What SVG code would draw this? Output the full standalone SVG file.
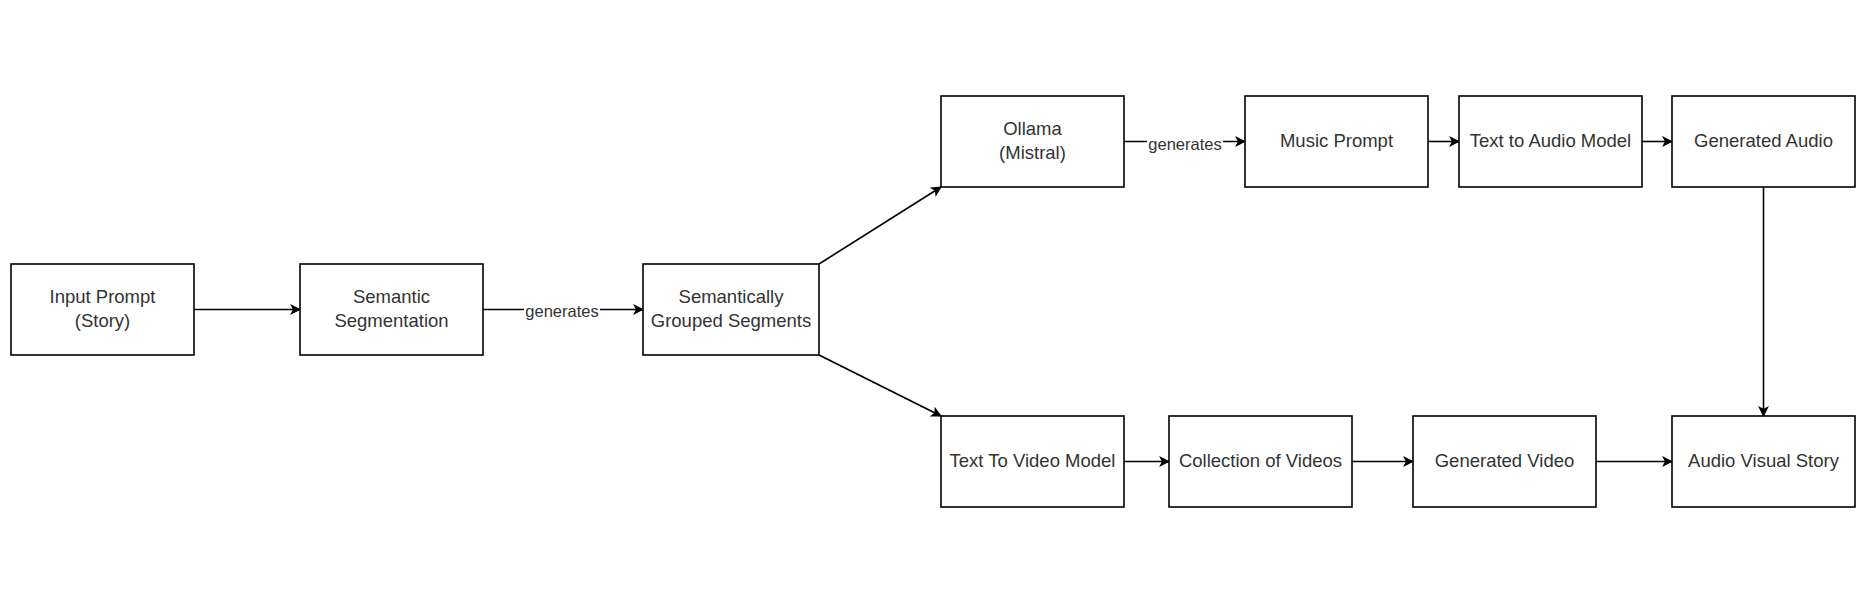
<svg xmlns="http://www.w3.org/2000/svg" width="1870" height="602" viewBox="0 0 1870 602">
<style>
.box{fill:#ffffff;stroke:#000000;stroke-width:1.6}
.t{font-family:"Liberation Sans",Arial,sans-serif;font-size:18.5px;fill:#333333;text-anchor:middle}
.lbl{font-family:"Liberation Sans",Arial,sans-serif;font-size:16.5px;fill:#333333;text-anchor:middle}
.edge{fill:none;stroke:#000000;stroke-width:1.6}
.lblbg{fill:#ffffff}
</style>
<defs>
<marker id="arr" viewBox="0 0 10 10" refX="9" refY="5" markerWidth="11" markerHeight="11" markerUnits="userSpaceOnUse" orient="auto">
<path d="M0,0 L10,5 L0,10 L2.5,5 Z" fill="#000000"/>
</marker>
</defs>
<rect width="1870" height="602" fill="#ffffff"/>
<g id="connectors">
<path class="edge" d="M194,309.5 L300,309.5" marker-end="url(#arr)"/>
<path class="edge" d="M483,309.5 L643,309.5" marker-end="url(#arr)"/>
<rect class="lblbg" x="524" y="302" width="76" height="17"/>
<text class="lbl" x="562" y="317">generates</text>
<path class="edge" d="M819,264 L941,187" marker-end="url(#arr)"/>
<path class="edge" d="M819,355 L941,416" marker-end="url(#arr)"/>
<path class="edge" d="M1124,141.5 L1245,141.5" marker-end="url(#arr)"/>
<rect class="lblbg" x="1147" y="135" width="76" height="17"/>
<text class="lbl" x="1185" y="150">generates</text>
<path class="edge" d="M1428,141.5 L1459,141.5" marker-end="url(#arr)"/>
<path class="edge" d="M1642,141.5 L1672,141.5" marker-end="url(#arr)"/>
<path class="edge" d="M1763.5,187 L1763.5,416" marker-end="url(#arr)"/>
<path class="edge" d="M1124,461.5 L1169,461.5" marker-end="url(#arr)"/>
<path class="edge" d="M1352,461.5 L1413,461.5" marker-end="url(#arr)"/>
<path class="edge" d="M1596,461.5 L1672,461.5" marker-end="url(#arr)"/>
</g>
<g id="input-prompt"><rect class="box" x="11" y="264" width="183" height="91"/><text class="t" x="102.5" y="303">Input Prompt</text><text class="t" x="102.5" y="327">(Story)</text></g>
<g id="semantic-segmentation"><rect class="box" x="300" y="264" width="183" height="91"/><text class="t" x="391.5" y="303">Semantic</text><text class="t" x="391.5" y="327">Segmentation</text></g>
<g id="semantically-grouped"><rect class="box" x="643" y="264" width="176" height="91"/><text class="t" x="731" y="303">Semantically</text><text class="t" x="731" y="327">Grouped Segments</text></g>
<g id="ollama"><rect class="box" x="941" y="96" width="183" height="91"/><text class="t" x="1032.5" y="135">Ollama</text><text class="t" x="1032.5" y="159">(Mistral)</text></g>
<g id="music-prompt"><rect class="box" x="1245" y="96" width="183" height="91"/><text class="t" x="1336.5" y="147">Music Prompt</text></g>
<g id="text-to-audio"><rect class="box" x="1459" y="96" width="183" height="91"/><text class="t" x="1550.5" y="147">Text to Audio Model</text></g>
<g id="generated-audio"><rect class="box" x="1672" y="96" width="183" height="91"/><text class="t" x="1763.5" y="147">Generated Audio</text></g>
<g id="text-to-video"><rect class="box" x="941" y="416" width="183" height="91"/><text class="t" x="1032.5" y="467">Text To Video Model</text></g>
<g id="collection-videos"><rect class="box" x="1169" y="416" width="183" height="91"/><text class="t" x="1260.5" y="467">Collection of Videos</text></g>
<g id="generated-video"><rect class="box" x="1413" y="416" width="183" height="91"/><text class="t" x="1504.5" y="467">Generated Video</text></g>
<g id="audio-visual-story"><rect class="box" x="1672" y="416" width="183" height="91"/><text class="t" x="1763.5" y="467">Audio Visual Story</text></g>
</svg>
